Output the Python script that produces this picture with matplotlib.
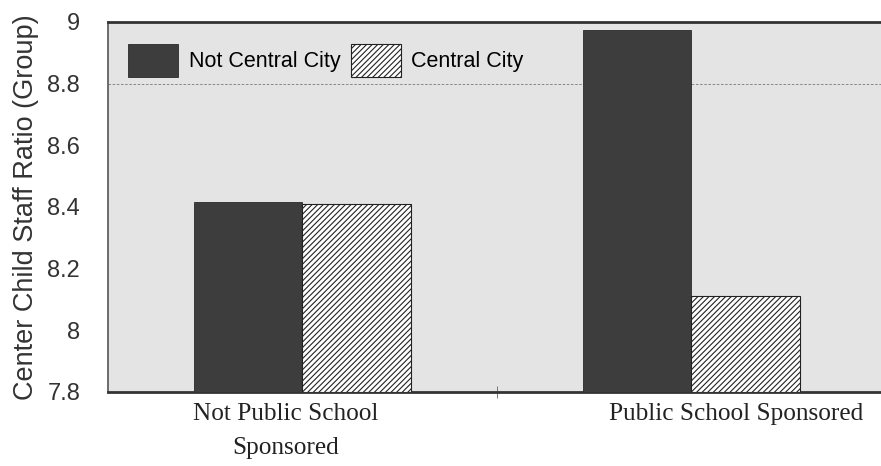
import numpy as np
import matplotlib.pyplot as plt
from matplotlib.transforms import ScaledTranslation

# Child/staff ratio by sponsorship and location
groups = ["Not Public School\nSponsored", "Public School Sponsored"]
series = ["Not Central City", "Central City"]
not_central = [8.415, 8.975]
central = [8.41, 8.11]

fig = plt.figure(figsize=(8.81, 4.66), dpi=100)
ax = fig.add_axes([0.1226, 0.1588, 0.883, 0.794])
ax.set_facecolor("#e4e4e4")

x = np.arange(len(groups))
w = 0.28
plt.rcParams["hatch.linewidth"] = 0.8
ax.bar(x - w / 2, [v - 7.8 for v in not_central], w, bottom=7.8,
       color="#3d3d3d", edgecolor="#2a2a2a", linewidth=0.6, label=series[0], zorder=3)
ax.bar(x + w / 2, [v - 7.8 for v in central], w, bottom=7.8,
       color="white", edgecolor="#222222", hatch="//////", linewidth=0.8,
       label=series[1], zorder=3)

# dotted reference line
ax.axhline(8.8, color="#777777", linestyle=(0, (3, 2)), linewidth=0.6, zorder=1)

ax.set_ylim(7.8, 9.0)
ax.set_xlim(-0.5, 1.5)
ax.set_yticks([7.8, 8.0, 8.2, 8.4, 8.6, 8.8, 9.0])
ax.set_yticklabels(["7.8", "8", "8.2", "8.4", "8.6", "8.8", "9"],
                   fontsize=17, family="Liberation Sans", color="#333333")
ax.tick_params(axis="y", length=0, pad=20)
ax.set_xticks(x)
ax.set_xticklabels(groups, fontsize=18.2, family="Liberation Serif",
                   color="#222222", linespacing=1.72)
ax.tick_params(axis="x", length=0, pad=8)
# category labels sit slightly off their group centres
for lab, dx in zip(ax.get_xticklabels(), [-12, 32]):
    lab.set_transform(lab.get_transform() + ScaledTranslation(dx / 72, 0, fig.dpi_scale_trans))
ax.set_xticks([0.5], minor=True)
ax.tick_params(axis="x", which="minor", direction="inout", length=8, width=0.6, color="#666666")

ax.set_ylabel("Center Child Staff Ratio (Group)", fontsize=19.5,
              family="Liberation Sans", color="#333333", labelpad=6)

for side in ["top", "bottom"]:
    ax.spines[side].set_linewidth(2.0)
    ax.spines[side].set_color("#333333")
ax.spines["left"].set_linewidth(1.2)
ax.spines["left"].set_color("#555555")
ax.spines["right"].set_visible(False)

leg = ax.legend(loc="upper left", ncol=2, frameon=False,
                prop={"family": "Liberation Sans", "size": 15.5},
                handlelength=2.33, handleheight=2.0, columnspacing=0.5,
                handletextpad=0.47, borderaxespad=0, borderpad=0.4,
                bbox_to_anchor=(0.015, 0.965))

fig.savefig("out.png", dpi=100)
